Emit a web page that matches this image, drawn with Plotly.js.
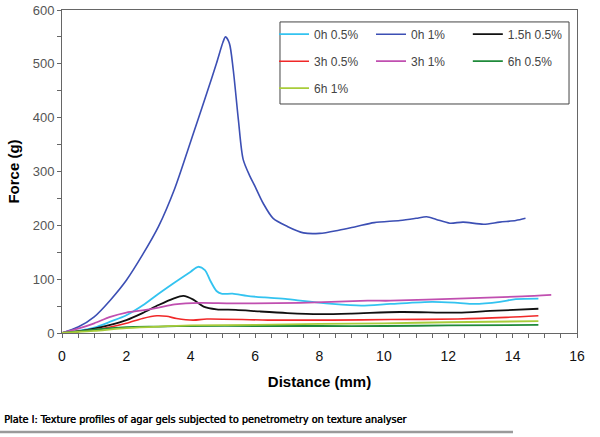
<!DOCTYPE html>
<html><head><meta charset="utf-8">
<script src="https://cdn.plot.ly/plotly-3.0.1.min.js"></script>
<style>html,body{margin:0;padding:0;background:#fff}#chart{width:600px;height:437px}</style>
</head><body><div id="chart"></div>
<script>
// Series names
const names = ["0h 0.5%", "0h 1%", "1.5h 0.5%", "3h 0.5%", "3h 1%", "6h 0.5%", "6h 1%"];
// 0h 0.5%
const x0h05 = [0, 0.5, 1.0, 1.5, 2.0, 2.5, 3.0, 3.5, 4.0, 4.23, 4.44, 4.6, 4.8, 4.95, 5.3, 5.75, 6.3, 7.0, 7.4, 8.4, 9.3, 10.2, 11.5, 12.3, 12.8, 13.6, 14.1, 14.8];
const y0h05 = [0, 4, 10, 21, 33, 51, 73, 94, 114, 123, 117, 98, 78, 73, 73, 69, 66, 63, 60, 54, 51, 54, 58, 56, 54, 58, 63, 64];
// 0h 1%
const x0h1 = [0, 0.5, 1.0, 1.5, 2.0, 2.5, 3.0, 3.5, 3.9, 4.2, 4.5, 4.8, 5.0, 5.08, 5.2, 5.32, 5.48, 5.63, 5.84, 6.0, 6.25, 6.56, 7.0, 7.5, 8.0, 8.6, 9.15, 9.7, 10.5, 11.0, 11.33, 11.63, 12.05, 12.46, 13.1, 13.6, 14.1, 14.4];
const y0h1 = [0, 11, 30, 61, 98, 145, 198, 268, 338, 392, 446, 501, 540, 550, 538, 489, 396, 322, 291, 272, 241, 213, 198, 186, 185, 191, 198, 205, 209, 213, 216, 211, 204, 206, 202, 206, 209, 213];
// 1.5h 0.5%
const x15h05 = [0, 0.5, 1.0, 1.5, 2.0, 2.5, 3.0, 3.46, 3.77, 4.08, 4.4, 4.8, 5.4, 6.15, 7.0, 8.0, 9.0, 10.5, 12.3, 13.3, 14.8];
const y15h05 = [0, 3, 8, 15, 24, 37, 52, 64, 69, 62, 49, 44, 43, 40, 37, 35, 36, 39, 38, 41, 45];
// 3h 0.5%
const x3h05 = [0, 0.5, 1.0, 1.5, 2.0, 2.5, 2.95, 3.25, 3.56, 4.08, 4.5, 6.4, 8.4, 10.2, 12.3, 13.8, 14.8];
const y3h05 = [0, 3, 6, 11, 18, 27, 32, 31, 27, 24, 26, 24, 24, 25, 26, 29, 32];
// 3h 1%
const x3h1 = [0, 0.5, 1.0, 1.5, 2.0, 2.5, 3.0, 3.5, 4.3, 5.3, 7.4, 9.5, 10.2, 12.3, 14.3, 15.2];
const y3h1 = [0, 8, 18, 30, 38, 42, 47, 53, 56, 55, 56, 60, 60, 64, 68, 71];
// 6h 0.5%
const x6h05 = [0, 0.5, 1.0, 1.5, 2.0, 3.0, 4.0, 6.0, 8.0, 10.0, 12.0, 14.8];
const y6h05 = [0, 3, 6, 9, 11, 12, 13, 13, 13, 13, 14, 15];
// 6h 1%
const x6h1 = [0, 0.5, 1.0, 2.0, 3.0, 4.0, 6.0, 8.0, 10.0, 12.0, 14.8];
const y6h1 = [0, 2, 4, 9, 12, 14, 15, 17, 18, 20, 22];

const xs = [x0h05, x0h1, x15h05, x3h05, x3h1, x6h05, x6h1];
const ys = [y0h05, y0h1, y15h05, y3h05, y3h1, y6h05, y6h1];
const colors = ["#33c3f0", "#3c4fb4", "#111111", "#f02828", "#c04fb0", "#1f8a3a", "#a8cc3a"];
const widths = [1.8, 1.6, 1.8, 1.6, 1.8, 1.8, 1.8];
const legendOf = ["legend", "legend2", "legend3", "legend", "legend2", "legend3", "legend"];

const traces = names.map((n, i) => ({
  type: "scatter", mode: "lines", name: n, x: xs[i], y: ys[i],
  line: {color: colors[i], width: widths[i], shape: "spline", smoothing: 0.8},
  legend: legendOf[i], legendgroup: "g" + i, hoverinfo: "skip"
}));

const legFont = {family: "Liberation Sans, Arial, sans-serif", size: 12, color: "#444"};
const legBase = {bgcolor: "rgba(0,0,0,0)", borderwidth: 0, font: legFont, orientation: "v",
  xanchor: "left", yanchor: "top", y: 0.970, tracegroupgap: 8, itemwidth: 30};

const layout = {
  width: 600, height: 437,
  margin: {l: 62, r: 23, t: 10, b: 104},
  paper_bgcolor: "#fff", plot_bgcolor: "#fff",
  showlegend: true,
  legend: Object.assign({}, legBase, {x: 0.4117}),
  legend2: Object.assign({}, legBase, {x: 0.6}),
  legend3: Object.assign({}, legBase, {x: 0.788}),
  xaxis: {
    range: [0, 16], dtick: 2, tick0: 0, showgrid: false, zeroline: false,
    showline: true, linecolor: "#666", linewidth: 1, mirror: true,
    ticks: "outside", ticklen: 4, tickcolor: "#666", ticklabelstandoff: 6,
    minor: {dtick: 0.5, ticks: "outside", ticklen: 4, tickcolor: "#666", showgrid: false},
    tickfont: {family: "Liberation Sans, Arial, sans-serif", size: 14, color: "#111"},
    title: {text: "<b>Distance (mm)</b>", font: {family: "Liberation Sans, Arial, sans-serif", size: 15, color: "#000"}, standoff: 13}
  },
  yaxis: {
    range: [0, 600], dtick: 100, tick0: 0, showgrid: false, zeroline: false,
    showline: true, linecolor: "#666", linewidth: 1, mirror: true,
    ticks: "outside", ticklen: 4, tickcolor: "#666",
    minor: {dtick: 50, ticks: "outside", ticklen: 4, tickcolor: "#666", showgrid: false},
    tickfont: {family: "Liberation Sans, Arial, sans-serif", size: 13, color: "#555"},
    title: {text: "<b>Force (g)</b>", font: {family: "Liberation Sans, Arial, sans-serif", size: 15, color: "#000"}, standoff: 9}
  },
  shapes: [
    {type: "rect", xref: "paper", yref: "paper", x0: 0.4233, x1: 0.9845, y0: 0.709, y1: 0.963,
     line: {color: "#444", width: 1}, fillcolor: "rgba(0,0,0,0)"},
    {type: "line", xref: "paper", yref: "paper", x0: -0.1204, x1: 0.8757, y0: -0.3065, y1: -0.3065,
     line: {color: "#9a9a9a", width: 2.5}}
  ],
  annotations: [
    {xref: "paper", yref: "paper", x: -0.1165, y: -0.267, xanchor: "left", yanchor: "middle",
     showarrow: false, text: "Plate I: Texture profiles of agar gels subjected to penetrometry on texture analyser",
     font: {family: "Liberation Sans Narrow, DejaVu Sans Condensed, sans-serif", size: 10.8, color: "#000", shadow: "0.4px 0 0 #000"}}
  ]
};

Plotly.newPlot("chart", traces, layout, {displayModeBar: false, staticPlot: true});
</script></body></html>
